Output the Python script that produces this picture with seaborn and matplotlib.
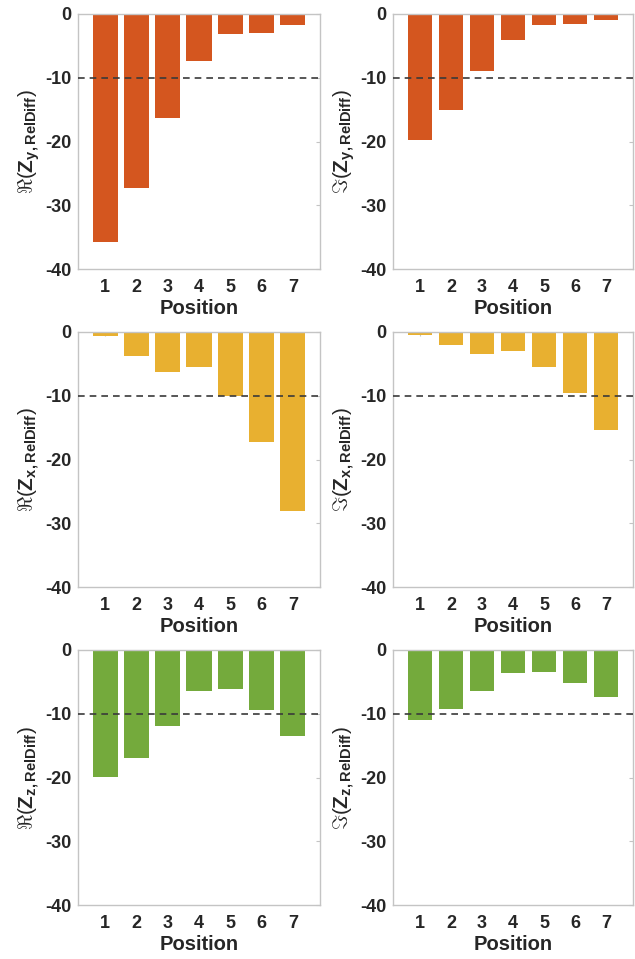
import matplotlib
matplotlib.use("Agg")
import matplotlib.pyplot as plt
import seaborn as sns
import pandas as pd

# Relative impedance differences (%) per sensor position
positions = [1, 2, 3, 4, 5, 6, 7]
re_zy = [-35.8, -27.3, -16.3, -7.4, -3.2, -3.0, -1.7]
im_zy = [-19.7, -15.1, -8.9, -4.0, -1.7, -1.6, -0.9]
re_zx = [-0.7, -3.8, -6.3, -5.5, -10.0, -17.3, -28.0]
im_zx = [-0.4, -2.1, -3.5, -3.0, -5.5, -9.5, -15.4]
re_zz = [-19.9, -16.9, -11.9, -6.5, -6.1, -9.4, -13.5]
im_zz = [-11.0, -9.3, -6.5, -3.6, -3.4, -5.1, -7.4]

yticks = [0, -10, -20, -30, -40]
threshold = -10

sns.set_theme(style="white")
plt.rcParams["font.family"] = ["Liberation Sans", "DejaVu Sans"]
plt.rcParams["mathtext.fontset"] = "custom"
plt.rcParams["mathtext.rm"] = "Liberation Sans"
plt.rcParams["mathtext.bf"] = "Liberation Sans:bold"
plt.rcParams["mathtext.it"] = "Liberation Sans:italic"

orange = "#D4561F"
yellow = "#E8B030"
green = "#74AA3C"

panels = [
    (re_zy, orange, r"$\Re(\mathbf{Z}_{\mathbf{y,RelDiff}})$"),
    (im_zy, orange, r"$\Im(\mathbf{Z}_{\mathbf{y,RelDiff}})$"),
    (re_zx, yellow, r"$\Re(\mathbf{Z}_{\mathbf{x,RelDiff}})$"),
    (im_zx, yellow, r"$\Im(\mathbf{Z}_{\mathbf{x,RelDiff}})$"),
    (re_zz, green, r"$\Re(\mathbf{Z}_{\mathbf{z,RelDiff}})$"),
    (im_zz, green, r"$\Im(\mathbf{Z}_{\mathbf{z,RelDiff}})$"),
]

W, H = 635, 959
fig = plt.figure(figsize=(W / 100, H / 100), dpi=100)

col_left = [78, 393]
col_width = [242, 240]
row_top = [14, 332, 650]
ax_height = 255

spine_color = "#C4C4C4"

for i, (vals, color, ylabel) in enumerate(panels):
    r, c = divmod(i, 2)
    rect = [col_left[c] / W, 1 - (row_top[r] + ax_height) / H,
            col_width[c] / W, ax_height / H]
    ax = fig.add_axes(rect)
    df = pd.DataFrame({"Position": positions, "value": vals})
    sns.barplot(data=df, x="Position", y="value", native_scale=True,
                color=color, saturation=1, width=0.8, edgecolor="none",
                linewidth=0, ax=ax, zorder=2)
    ax.axhline(threshold, color="#3A3A3A", linestyle=(0, (4, 3)),
               linewidth=1.2, zorder=3)
    ax.set_xlim(0.13, 7.87)
    ax.set_ylim(-40, 0)
    ax.set_xticks(positions)
    ax.set_xticklabels([str(p) for p in positions])
    ax.set_yticks(yticks)
    ax.set_yticklabels([str(t) for t in yticks])
    for s in ax.spines.values():
        s.set_visible(True)
        s.set_color(spine_color)
        s.set_linewidth(1.0)
    ax.tick_params(axis="both", which="both", direction="in", length=3,
                   width=0.8, color=spine_color, top=True, right=True,
                   labelsize=13, labelcolor="#262626")
    ax.tick_params(axis="x", pad=7)
    ax.tick_params(axis="y", pad=5)
    for lab in ax.get_xticklabels() + ax.get_yticklabels():
        lab.set_fontweight("bold")
    ax.set_xlabel("Position", fontsize=14.5, fontweight="bold",
                  color="#262626", labelpad=2)
    ax.set_ylabel(ylabel, fontsize=15, color="#262626", labelpad=2)

fig.savefig("out.png", dpi=100)
